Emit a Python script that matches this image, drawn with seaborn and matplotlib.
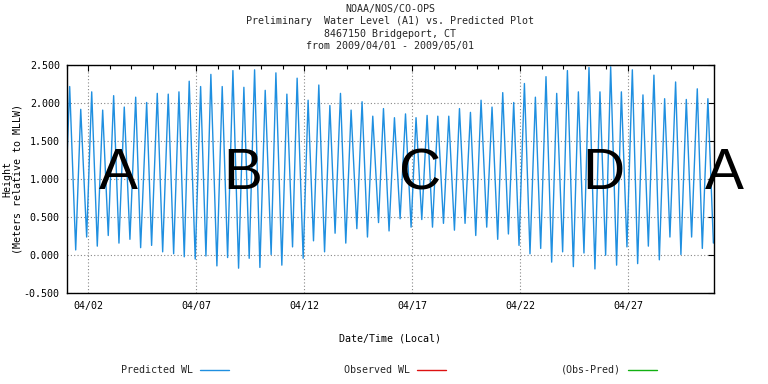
import pandas as pd
import seaborn as sns
import matplotlib.pyplot as plt
import matplotlib.dates as mdates
from matplotlib.lines import Line2D
from matplotlib.ticker import MultipleLocator, FormatStrFormatter

# tide extremes, hours after 2009/04/01 00:00
start = pd.Timestamp('2009-04-01 00:00')

high_hours = [3.3, 15.6, 27.8, 40.0, 52.2, 64.0, 76.7, 88.9, 100.7, 112.9,
              124.8, 136.2, 148.9, 160.3, 172.9, 184.8, 197.0, 208.9, 220.7, 232.6,
              244.8, 256.2, 268.4, 280.3, 292.6, 304.4, 316.2, 328.4, 340.3, 352.2,
              364.4, 376.7, 388.4, 400.7, 412.6, 424.8, 436.7, 448.9, 460.7, 472.9,
              484.8, 497.0, 508.9, 521.1, 532.9, 544.8, 556.7, 568.9, 580.7, 592.9,
              604.8, 616.7, 628.9, 640.7, 652.9, 664.8, 677.0, 688.9, 701.1, 712.9]
high_wl = [2.21, 1.91, 2.14, 1.90, 2.09, 1.94, 2.07, 2.00, 2.12, 2.11,
           2.14, 2.28, 2.21, 2.37, 2.21, 2.42, 2.20, 2.43, 2.16, 2.39,
           2.11, 2.32, 2.03, 2.23, 1.96, 2.12, 1.90, 2.01, 1.82, 1.92,
           1.80, 1.85, 1.80, 1.83, 1.82, 1.82, 1.92, 1.87, 2.03, 1.94,
           2.13, 2.00, 2.25, 2.07, 2.34, 2.12, 2.42, 2.14, 2.46, 2.14,
           2.47, 2.14, 2.43, 2.10, 2.36, 2.05, 2.27, 2.04, 2.18, 2.05]

low_hours = [-2.8, 10.0, 22.2, 34.0, 46.2, 58.1, 70.3, 82.2, 94.4, 106.7,
             118.9, 130.7, 142.9, 154.8, 167.0, 178.9, 191.1, 202.9, 214.8, 227.3,
             239.2, 251.1, 262.9, 274.4, 286.7, 298.4, 310.3, 322.6, 334.4, 346.7,
             358.4, 370.7, 382.9, 394.8, 406.7, 418.9, 431.1, 442.9, 454.8, 467.0,
             479.2, 491.1, 502.9, 515.1, 527.0, 539.2, 551.4, 563.3, 575.1, 587.3,
             599.2, 611.4, 622.9, 634.8, 646.7, 658.9, 670.7, 682.9, 694.8, 706.7,
             719.0]
low_wl = [0.25, 0.06, 0.23, 0.11, 0.25, 0.15, 0.20, 0.09, 0.12, 0.035,
          0.01, -0.03, -0.06, -0.02, -0.15, -0.04, -0.18, -0.05, -0.17, 0.0,
          -0.14, 0.10, -0.05, 0.18, 0.035, 0.28, 0.15, 0.34, 0.23, 0.42,
          0.31, 0.47, 0.36, 0.46, 0.36, 0.41, 0.32, 0.41, 0.25, 0.36,
          0.20, 0.27, 0.12, 0.01, 0.08, -0.10, 0.035, -0.16, 0.02, -0.19,
          -0.01, -0.14, 0.10, -0.12, 0.11, -0.07, 0.23, 0.0, 0.23, 0.08,
          0.15]

title_lines = ['NOAA/NOS/CO-OPS',
               'Preliminary  Water Level (A1) vs. Predicted Plot',
               '8467150 Bridgeport, CT',
               'from 2009/04/01 - 2009/05/01']
legend_labels = ['Predicted WL', 'Observed WL', '(Obs-Pred)']
legend_colors = ['#1f8fe0', '#dd1111', '#11b011']
big_letters = ['A', 'B', 'C', 'D', 'A']
letter_x = [118, 243, 420, 603, 724]


def main():
    sns.set_style('white')
    plt.rcParams['font.family'] = ['DejaVu Sans Mono']
    fs = 7.2

    df = pd.DataFrame({'hours': high_hours + low_hours, 'wl': high_wl + low_wl})
    df = df.sort_values('hours')
    df['time'] = start + pd.to_timedelta(df['hours'], unit='h')

    fig = plt.figure(figsize=(7.68, 3.84), dpi=100)
    ax = fig.add_axes([0.08685, 0.23828, 0.8432, 0.59375])
    sns.lineplot(data=df, x='time', y='wl', ax=ax, color=legend_colors[0],
                 lw=1.0, estimator=None)

    ax.set_xlim(start, pd.Timestamp('2009-05-01 00:00'))
    ax.set_ylim(-0.5, 2.5)
    ax.xaxis.set_major_locator(mdates.DayLocator(bymonthday=[2, 7, 12, 17, 22, 27]))
    ax.xaxis.set_minor_locator(mdates.DayLocator())
    ax.xaxis.set_major_formatter(mdates.DateFormatter('%m/%d'))
    ax.yaxis.set_major_locator(MultipleLocator(0.5))
    ax.yaxis.set_major_formatter(FormatStrFormatter('%.3f'))
    ax.tick_params(which='both', direction='in', top=True, right=True,
                   color='black', labelsize=fs, labelcolor='black')
    ax.tick_params(which='major', length=4, width=0.8)
    ax.tick_params(which='minor', length=3, width=0.8)
    ax.tick_params(axis='x', pad=6)
    ax.tick_params(axis='y', pad=5)
    ax.grid(True, which='major', ls=(0, (1, 2)), color='#888888', lw=0.8)
    for s in ax.spines.values():
        s.set_color('black')
        s.set_linewidth(1.0)

    ax.set_xlabel('Date/Time (Local)', fontsize=fs, labelpad=16, color='black')
    ax.set_ylabel('Height\n(Meters relative to MLLW)', fontsize=fs, color='black',
                  linespacing=1.0)
    ax.yaxis.set_label_coords(-0.069, 0.5)
    ax.set_title('\n'.join(title_lines), fontsize=fs, linespacing=1.3, pad=11)

    handles = [Line2D([], [], color=c, lw=1.0) for c in legend_colors]
    fig.legend(handles, legend_labels, loc='center', bbox_to_anchor=(389 / 768, 1 - 370 / 384),
               ncol=3, frameon=False, markerfirst=False, fontsize=fs,
               handlelength=2.9, handletextpad=0.7, columnspacing=11.5)

    for letter, x in zip(big_letters, letter_x):
        fig.text(x / 768, 1 - 189.5 / 384, letter, ha='center', va='baseline',
                 fontsize=42, family='Liberation Sans', color='black')

    fig.savefig('out.png', dpi=100)


if __name__ == '__main__':
    main()
